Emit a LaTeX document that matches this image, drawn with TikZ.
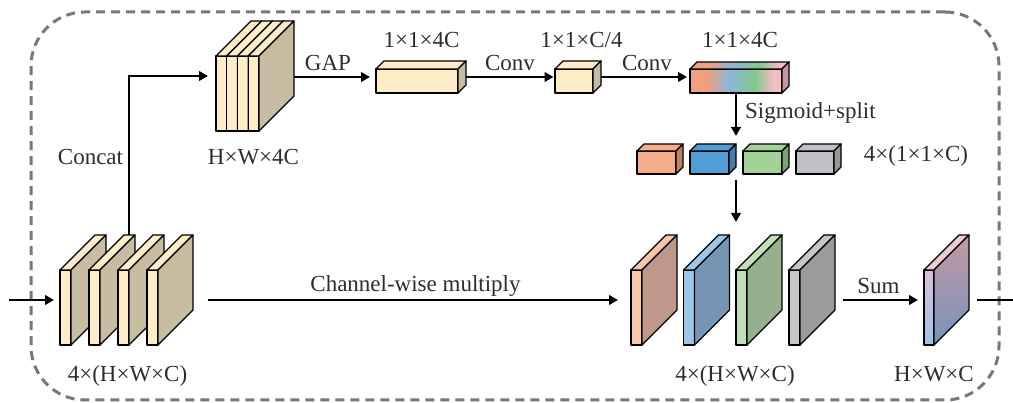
\documentclass[tikz,border=0pt]{standalone}
\usepackage{fontspec}
\setmainfont{Liberation Serif}
\usetikzlibrary{arrows.meta,fit}
\definecolor{cream}{RGB}{255,237,200}
\definecolor{tan}{RGB}{200,189,163}
\definecolor{txt}{RGB}{45,45,45}
\definecolor{framegray}{RGB}{120,120,120}
\definecolor{oF}{RGB}{245,172,136}
\definecolor{oS}{RGB}{192,128,104}
\definecolor{bF}{RGB}{82,156,214}
\definecolor{bS}{RGB}{70,124,172}
\definecolor{gF}{RGB}{162,210,152}
\definecolor{gS}{RGB}{126,160,116}
\definecolor{yF}{RGB}{192,193,196}
\definecolor{yS}{RGB}{150,150,152}
\definecolor{p1F}{RGB}{250,198,170}
\definecolor{p1S}{RGB}{192,152,138}
\definecolor{p2F}{RGB}{155,198,232}
\definecolor{p2S}{RGB}{118,150,180}
\definecolor{p3F}{RGB}{192,225,182}
\definecolor{p3S}{RGB}{150,175,140}
\definecolor{p4F}{RGB}{196,197,201}
\definecolor{p4S}{RGB}{155,155,157}
\definecolor{rbO}{RGB}{240,160,122}
\definecolor{rbB}{RGB}{140,182,218}
\definecolor{rbG}{RGB}{128,200,140}
\definecolor{rbP}{RGB}{245,188,196}
\definecolor{rbS}{RGB}{200,150,160}
\definecolor{outFT}{RGB}{218,192,215}
\definecolor{outFB}{RGB}{160,195,235}
\definecolor{outST}{RGB}{196,152,164}
\definecolor{outSB}{RGB}{118,148,188}
\definecolor{outT}{RGB}{242,202,212}
\pgfdeclarehorizontalshading{rainbowF}{100bp}{color(0bp)=(rbO); color(25bp)=(rbO); color(34bp)=(rbO); color(46bp)=(rbB); color(60bp)=(rbG); color(70bp)=(rbP); color(75bp)=(rbP); color(100bp)=(rbP)}
\newcommand{\cuboid}[9]{%
  \path[face,#7] (#2,#3) rectangle ++(#4,#5);
  \path[face,#9] (#2,#3) -- ++(#6,-#6) -- ++(#4,0) -- ++(-#6,#6) -- cycle;
  \path[face,#8] (#2,#3) ++(#4,0) -- ++(#6,-#6) -- ++(0,#5) -- ++(-#6,#6) -- cycle;
  \coordinate (#1-nw) at (#2,#3-#6);
  \coordinate (#1-se) at (#2+#4+#6,#3+#5);
  \node[hold, fit=(#1-nw)(#1-se)] (#1) {};
  \coordinate (#1-fb) at (#2+#4/2,#3+#5);
}
\begin{document}
\begin{tikzpicture}[x=1pt,y=-1pt,
  face/.style={draw=black,line width=1.3pt,line join=round},
  hold/.style={inner sep=0pt,outer sep=0pt,draw=none,rectangle},
  arr/.style={draw=black,line width=2.6pt,-{Triangle[length=9pt,width=9.5pt]}},
  wire/.style={draw=black,line width=2.6pt},
  lbl/.style={inner sep=0pt,font=\fontsize{23}{27}\selectfont,text=txt,anchor=base},
  frame/.style={draw=framegray,line width=3pt,dash pattern=on 9pt off 6pt,rounded corners=54pt}]
\useasboundingbox (0,0) rectangle (1013,403);
\node[frame, minimum width=968pt, minimum height=388pt, inner sep=0pt] (border) at (515,206) {};

% left stack
\cuboid{L1}{60}{270}{11}{75}{35}{fill=cream}{fill=tan}{fill=cream}
\cuboid{L2}{89}{270}{11}{75}{35}{fill=cream}{fill=tan}{fill=cream}
\cuboid{L3}{118}{270}{11}{75}{35}{fill=cream}{fill=tan}{fill=cream}
\cuboid{L4}{147}{270}{11}{75}{35}{fill=cream}{fill=tan}{fill=cream}
\node[hold, fit=(L1)(L4)] (stackL) {};

% top stack
\cuboid{T1}{216}{56}{10.75}{75}{35}{fill=cream}{fill=tan}{fill=cream}
\cuboid{T2}{226.75}{56}{10.75}{75}{35}{fill=cream}{fill=tan}{fill=cream}
\cuboid{T3}{237.5}{56}{10.75}{75}{35}{fill=cream}{fill=tan}{fill=cream}
\cuboid{T4}{248.25}{56}{10.75}{75}{35}{fill=cream}{fill=tan}{fill=cream}
\node[hold, fit=(T1)(T4)] (stackT) {};

% vectors
\cuboid{box1}{376}{69}{82}{24}{8}{fill=cream}{fill=tan}{fill=cream}
\cuboid{box2}{555}{69}{38}{24}{8}{fill=cream}{fill=tan}{fill=cream}
\cuboid{box3}{690}{69}{92}{24}{7}{shade,shading=rainbowF}{fill=rbS}{shade,shading=rainbowF,opacity=1}

% split vectors
\cuboid{s1}{637}{151}{39}{23}{7}{fill=oF}{fill=oS}{fill=oF}
\cuboid{s2}{690}{151}{39}{23}{7}{fill=bF}{fill=bS}{fill=bF}
\cuboid{s3}{743}{151}{39}{23}{7}{fill=gF}{fill=gS}{fill=gF}
\cuboid{s4}{796}{151}{38}{23}{7}{fill=yF}{fill=yS}{fill=yF}
\node[hold, fit=(s1)(s4)] (split) {};

% weighted plates
\cuboid{P1}{631}{270}{11}{75}{35}{fill=p1F}{fill=p1S}{fill=p1F}
\cuboid{P2}{683.5}{270}{11}{75}{35}{fill=p2F}{fill=p2S}{fill=p2F}
\cuboid{P3}{736}{270}{11}{75}{35}{fill=p3F}{fill=p3S}{fill=p3F}
\cuboid{P4}{789}{270}{11}{75}{35}{fill=p4F}{fill=p4S}{fill=p4F}
\node[hold, fit=(P1)(P4)] (plates) {};

% output plate
\cuboid{out}{924}{270}{10}{75}{35}{top color=outFT,bottom color=outFB}{top color=outST,bottom color=outSB}{fill=outT}

% connectors
\coordinate (inL) at (9,300);
\coordinate (cc) at (129,76);
\coordinate (outR) at (1013,300);
\draw[arr, shorten >=6pt] (inL) -- (stackL.west |- inL);
\draw[arr, shorten >=8pt] (stackL.north -| cc) -- (cc) -- (stackT.west |- cc);
\draw[arr, shorten >=6pt] (stackT.east |- box1) -- (box1.west);
\draw[arr, shorten >=1.5pt] (box1.east) -- (box2.west |- box1.east);
\draw[arr, shorten >=3pt] (box2.east) -- (box3.west |- box2.east);
\draw[arr, shorten >=8pt] (box3-fb) -- (box3-fb |- split.north);
\draw[arr, shorten <=6pt, shorten >=13pt] (box3-fb |- split.south) -- (box3-fb |- plates.north);
\draw[arr, shorten <=15pt, shorten >=13pt] (stackL.east |- inL) -- (plates.west |- inL);
\draw[arr, shorten <=8pt, shorten >=6pt] (plates.east |- inL) -- (out.west |- inL);
\draw[wire, shorten <=8pt] (out.east |- inL) -- (outR);

% labels
\node[lbl] (tConcat) at (90.5,165) {Concat};
\node[lbl] (tHW4C) at (253.5,165) {H×W×4C};
\node[lbl] (tGAP) at (328,71) {GAP};
\node[lbl] (tConv1) at (510,71) {Conv};
\node[lbl] (tConv2) at (647,71) {Conv};
\node[lbl] (t4C1) at (421.5,48) {1×1×4C};
\node[lbl] (tC4) at (581.5,48) {1×1×C/4};
\node[lbl] (t4C2) at (740,48) {1×1×4C};
\node[lbl, anchor=base west] (tSig) at (745,119) {Sigmoid+split};
\node[lbl] (t4x1) at (916,162) {4×(1×1×C)};
\node[lbl] (tCwm) at (415.5,292) {Channel-wise multiply};
\node[lbl] (tSum) at (878.5,294) {Sum};
\node[lbl] (t4xL) at (127.5,382) {4×(H×W×C)};
\node[lbl] (t4xR) at (735,382) {4×(H×W×C)};
\node[lbl] (tHWC) at (934,382) {H×W×C};
\end{tikzpicture}
\end{document}
